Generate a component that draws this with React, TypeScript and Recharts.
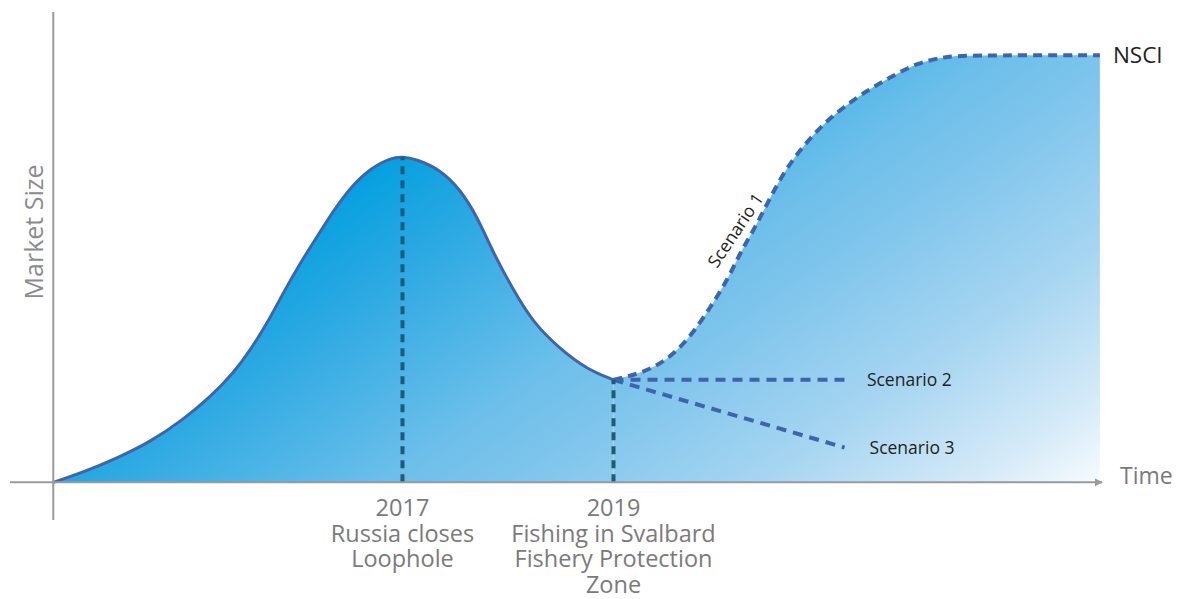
import React from "react";
import {
  ComposedChart,
  Area,
  Line,
  XAxis,
  YAxis,
  ReferenceLine,
  LabelList,
} from "recharts";

// market curve up to 2019 (time in years, size in arbitrary units)
const mainTime = [
  2013.69, 2013.98, 2014.3, 2014.61, 2014.92, 2015.18, 2015.4, 2015.56,
  2015.72, 2015.87, 2016.03, 2016.19, 2016.35, 2016.51, 2016.7, 2016.89,
  2017.0, 2017.12, 2017.36, 2017.55, 2017.71, 2017.86, 2018.05, 2018.24,
  2018.5, 2018.76, 2019.0,
];
const mainSize = [
  0, 2.2, 5.2, 8.6, 13.3, 18.2, 23.3, 28.2, 33.9, 40.3, 46.6, 52.2, 57.9,
  62.8, 66.8, 69.0, 69.2, 68.8, 66.5, 62.2, 56.4, 48.8, 40.9, 33.9, 28.2,
  23.9, 21.8,
];

// scenario 1: growth to NSCI
const s1Time = [
  2019.0, 2019.28, 2019.51, 2019.73, 2019.92, 2020.08, 2020.2, 2020.33,
  2020.46, 2020.61, 2020.77, 2020.96, 2021.18, 2021.41, 2021.63, 2021.88,
  2022.13, 2022.29, 2023.61,
];
const s1Size = [
  21.8, 23.3, 26.0, 30.9, 37.3, 43.0, 48.8, 53.7, 59.4, 65.8, 70.7, 75.6,
  79.8, 83.4, 86.2, 89.2, 90.4, 90.8, 90.8,
];

// scenario 2 & 3
const s2Time = [2019.0, 2021.25];
const s2Size = [21.8, 21.8];
const s3Time = [2019.0, 2021.19];
const s3Size = [21.8, 7.4];

const events = [
  { year: 2017, size: 69.2, lines: ["2017", "Russia closes", "Loophole"] },
  {
    year: 2019,
    size: 21.8,
    lines: ["2019", "Fishing in Svalbard", "Fishery Protection", "Zone"],
  },
];

const toRows = (t: number[], v: number[]) =>
  t.map((x, i) => ({ t: x, v: v[i] }));

const mainData = toRows(mainTime, mainSize);
const s1Data = toRows(s1Time, s1Size);
const s2Data = toRows(s2Time, s2Size);
const s3Data = toRows(s3Time, s3Size);

const FONT = "'Open Sans', 'Noto Sans', sans-serif";
const LINE_BLUE = "#3f64ae";
const GREY = "#7a7a7a";

const endLabel =
  (text: string, count: number, gap: number) =>
  (props: any) => {
    if (props.index !== count - 1) return null;
    return (
      <text
        x={props.x + gap}
        y={props.y}
        dy={6}
        fontFamily={FONT}
        fontSize={17.5}
        fill="#231f20"
      >
        {text}
      </text>
    );
  };

const eventLabel = (lines: string[]) => (props: any) => {
  const vb = props.viewBox;
  const cx = vb.x;
  const base = vb.y + vb.height;
  return (
    <g>
      {lines.map((l, i) => (
        <text
          key={i}
          x={cx}
          y={base + 34 + i * 25.5}
          fontFamily={FONT}
          fontSize={23.5}
          fill={GREY}
          textAnchor="middle"
        >
          {l}
        </text>
      ))}
    </g>
  );
};

const App: React.FC = () => {
  return (
    <div style={{ position: "absolute", left: 0, top: 0, background: "#fff" }}>
      <ComposedChart
        width={1183}
        height={599}
        margin={{ top: 12, right: 81, bottom: 79, left: 10 }}
      >
        <defs>
          <linearGradient
            id="fillGrad"
            gradientUnits="userSpaceOnUse"
            x1={41}
            y1={385}
            x2={435}
            y2={950}
          >
            <stop offset="0" stopColor="#009fe0" />
            <stop offset="0.15" stopColor="#29a8e2" />
            <stop offset="0.4" stopColor="#6cbfea" />
            <stop offset="0.5" stopColor="#7dc4ec" />
            <stop offset="0.71" stopColor="#a6d5f1" />
            <stop offset="0.89" stopColor="#d5eaf8" />
            <stop offset="1" stopColor="#f8fcfe" />
          </linearGradient>
          <marker
            id="arrow"
            viewBox="0 0 10 10"
            refX={9}
            refY={5}
            markerWidth={4}
            markerHeight={4}
            orient="auto"
          >
            <path d="M0,0 L10,5 L0,10 z" fill="#9a9a9a" />
          </marker>
        </defs>
        <XAxis
          type="number"
          dataKey="t"
          domain={[2013.28, 2023.63]}
          allowDataOverflow
          hide
        />
        <YAxis type="number" domain={[-8, 100]} allowDataOverflow hide />

        <Area
          data={mainData}
          dataKey="v"
          type="basis"
          fill="url(#fillGrad)"
          fillOpacity={1}
          stroke={LINE_BLUE}
          strokeWidth={3}
          isAnimationActive={false}
          dot={false}
          activeDot={false}
        />
        <Area
          data={s1Data}
          dataKey="v"
          type="basis"
          fill="url(#fillGrad)"
          fillOpacity={1}
          stroke={LINE_BLUE}
          strokeWidth={4}
          strokeDasharray="9 6"
          isAnimationActive={false}
          dot={false}
          activeDot={false}
        >
          <LabelList
            dataKey="v"
            content={(props: any) => {
              if (props.index !== 7) return null;
              const x = props.x - 19;
              const y = props.y;
              return (
                <text
                  x={x}
                  y={y}
                  fontFamily={FONT}
                  fontSize={17.5}
                  fill="#231f20"
                  textAnchor="middle"
                  dominantBaseline="central"
                  transform={`rotate(-56 ${x} ${y})`}
                >
                  Scenario 1
                </text>
              );
            }}
          />
          <LabelList
            dataKey="v"
            content={(props: any) => {
              if (props.index !== s1Data.length - 1) return null;
              return (
                <text
                  x={props.x + 13}
                  y={props.y}
                  dy={8}
                  fontFamily={FONT}
                  fontSize={22.5}
                  fill="#231f20"
                >
                  NSCI
                </text>
              );
            }}
          />
        </Area>

        <Line
          data={s2Data}
          dataKey="v"
          type="linear"
          stroke={LINE_BLUE}
          strokeWidth={4}
          strokeDasharray="10 7"
          dot={false}
          activeDot={false}
          isAnimationActive={false}
        >
          <LabelList
            dataKey="v"
            content={endLabel("Scenario 2", s2Data.length, 16)}
          />
        </Line>
        <Line
          data={s3Data}
          dataKey="v"
          type="linear"
          stroke={LINE_BLUE}
          strokeWidth={4}
          strokeDasharray="10 7"
          dot={false}
          activeDot={false}
          isAnimationActive={false}
        >
          <LabelList
            dataKey="v"
            content={endLabel("Scenario 3", s3Data.length, 25)}
          />
        </Line>

        {events.map((e) => (
          <ReferenceLine
            key={e.year}
            segment={[
              { x: e.year, y: 0 },
              { x: e.year, y: e.size },
            ]}
            stroke="#1f5b74"
            strokeWidth={4}
            strokeDasharray="8 6"
            label={eventLabel(e.lines)}
          />
        ))}

        {/* axes */}
        <ReferenceLine
          y={0}
          stroke="#9a9a9a"
          strokeWidth={2}
          markerEnd="url(#arrow)"
          label={(props: any) => (
            <text
              x={props.viewBox.x + props.viewBox.width + 18}
              y={props.viewBox.y}
              dy={2}
              fontFamily={FONT}
              fontSize={23}
              fill={GREY}
            >
              Time
            </text>
          )}
        />
        <ReferenceLine
          x={2013.69}
          stroke="#9a9a9a"
          strokeWidth={2}
          label={(props: any) => {
            const x = props.viewBox.x - 20;
            const y = 232;
            return (
              <text
                x={x}
                y={y}
                fontFamily={FONT}
                fontSize={25}
                fill="#8c8c8c"
                textAnchor="middle"
                dominantBaseline="central"
                transform={`rotate(-90 ${x} ${y})`}
              >
                Market Size
              </text>
            );
          }}
        />
      </ComposedChart>
    </div>
  );
};

export default App;
